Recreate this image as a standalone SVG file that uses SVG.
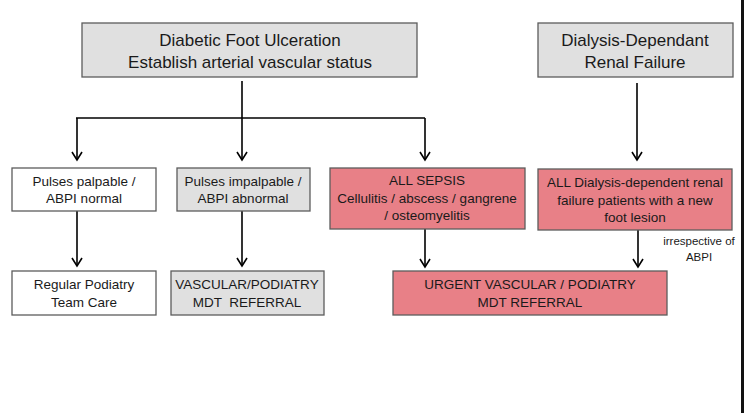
<svg xmlns="http://www.w3.org/2000/svg" width="744" height="413" viewBox="0 0 744 413">
<defs>
<style>
text{font-family:"Liberation Sans",Arial,sans-serif;fill:#1a1a1a;text-anchor:middle}
.t{font-size:17px}
.m{font-size:13.5px}
.s{font-size:11.5px}
.g{fill:#e0e0e0;stroke:#5c5c5c;stroke-width:1.3}
.w{fill:#ffffff;stroke:#5c5c5c;stroke-width:1.3}
.r{fill:#e88087;stroke:#5c5c5c;stroke-width:1.3}
.c{fill:none;stroke:#000;stroke-width:1.6}
</style>
<marker id="ah" markerWidth="12" markerHeight="12" refX="10" refY="6" orient="auto" markerUnits="userSpaceOnUse" viewBox="0 0 12 12">
<path d="M2,1 L10,6 L2,11" fill="none" stroke="#000" stroke-width="1.6"/>
</marker>
</defs>
<rect width="744" height="413" fill="#fff"/>
<rect x="741" y="0" width="3" height="413" fill="#111"/>
<g id="connectors">
<path class="c" d="M242,81 V118"/>
<path class="c" d="M76,118 H425"/>
<path class="c" d="M77,118 V160" marker-end="url(#ah)"/>
<path class="c" d="M242,118 V160" marker-end="url(#ah)"/>
<path class="c" d="M425,118 V160" marker-end="url(#ah)"/>
<path class="c" d="M637,83 V160" marker-end="url(#ah)"/>
<path class="c" d="M77,211 V266" marker-end="url(#ah)"/>
<path class="c" d="M242,211 V266" marker-end="url(#ah)"/>
<path class="c" d="M425,229 V267" marker-end="url(#ah)"/>
<path class="c" d="M638,230 V267" marker-end="url(#ah)"/>
</g>
<g id="n-dfu">
<rect class="g" x="82" y="23" width="335" height="54"/>
<text class="t" x="250" y="46">Diabetic Foot Ulceration</text>
<text class="t" x="250" y="68">Establish arterial vascular status</text>
</g>
<g id="n-ddrf">
<rect class="g" x="538" y="23" width="195" height="54"/>
<text class="t" x="635" y="46">Dialysis-Dependant</text>
<text class="t" x="635" y="68">Renal Failure</text>
</g>
<g id="n-palpable">
<rect class="w" x="12" y="168" width="144" height="43"/>
<text class="m" x="84" y="186">Pulses palpable /</text>
<text class="m" x="84" y="203">ABPI normal</text>
</g>
<g id="n-impalpable">
<rect class="g" x="177" y="168" width="133" height="43"/>
<text class="m" x="243" y="186">Pulses impalpable /</text>
<text class="m" x="243" y="203">ABPI abnormal</text>
</g>
<g id="n-sepsis">
<rect class="r" x="330" y="168" width="195" height="61"/>
<text class="m" x="427" y="185">ALL SEPSIS</text>
<text class="m" x="427" y="203">Cellulitis / abscess / gangrene</text>
<text class="m" x="427" y="220">/ osteomyelitis</text>
</g>
<g id="n-dialysis">
<rect class="r" x="538" y="169" width="194" height="61"/>
<text class="m" x="635" y="187">ALL Dialysis-dependent renal</text>
<text class="m" x="635" y="205">failure patients with a new</text>
<text class="m" x="635" y="222">foot lesion</text>
</g>
<g id="n-regular">
<rect class="w" x="12" y="271" width="144" height="44"/>
<text class="m" x="84" y="289">Regular Podiatry</text>
<text class="m" x="84" y="307">Team Care</text>
</g>
<g id="n-vascular">
<rect class="g" x="171" y="271" width="153" height="44"/>
<text class="m" x="247" y="289">VASCULAR/PODIATRY</text>
<text class="m" x="247" y="307" xml:space="preserve" style="white-space:pre">MDT  REFERRAL</text>
</g>
<g id="n-urgent">
<rect class="r" x="393" y="271" width="274" height="44"/>
<text class="m" x="530" y="289">URGENT VASCULAR / PODIATRY</text>
<text class="m" x="530" y="307">MDT REFERRAL</text>
</g>
<g id="label-irrespective">
<text class="s" x="699" y="245">irrespective of</text>
<text class="s" x="699" y="261">ABPI</text>
</g>
</svg>
